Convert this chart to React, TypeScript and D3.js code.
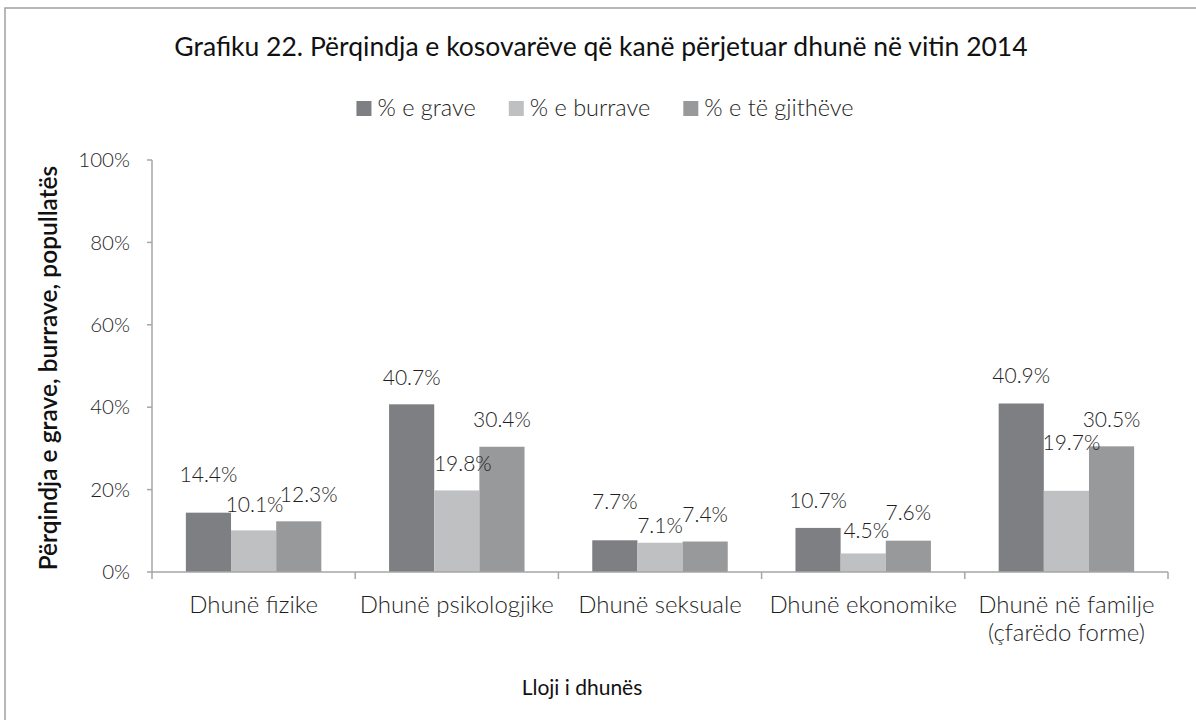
import React, { useEffect, useRef } from "react";
import * as d3 from "d3";

const categories: string[][] = [
  ["Dhunë fizike"],
  ["Dhunë psikologjike"],
  ["Dhunë seksuale"],
  ["Dhunë ekonomike"],
  ["Dhunë në familje", "(çfarëdo forme)"],
];
const seriesNames = ["% e grave", "% e burrave", "% e të gjithëve"];
const women = [14.4, 40.7, 7.7, 10.7, 40.9];
const men = [10.1, 19.8, 7.1, 4.5, 19.7];
const all = [12.3, 30.4, 7.4, 7.6, 30.5];
const yTicks = [0, 20, 40, 60, 80, 100];

// label placement nudges (layout, px): lift above bar top, horizontal shift
const labelLift = [
  [31, 18, 19],
  [19, 19.5, 20],
  [31, 10, 20],
  [20, 15.5, 20.5],
  [20, 41, 19],
];
const labelShift = [
  [0, 1, 10],
  [0, 6, 0],
  [0, 0, 0],
  [0, 3, 0],
  [0, 5, 0],
];

const colors = ["#7e7f82", "#bfc0c2", "#98999b"];
const FONT = "Lato, 'Open Sans', sans-serif";
const TEXT = "#1e1e1e";
const AXIS = "#a6a6a6";
const LIGHT = 300;

export default function App() {
  const ref = useRef<SVGSVGElement | null>(null);

  useEffect(() => {
    const svg = d3.select(ref.current);
    svg.selectAll("*").remove();
    const W = 1196, H = 720;
    const left = 152, right = 1168, top = 160, bottom = 572;

    // chart border
    svg.append("rect").attr("x", 5).attr("y", 8).attr("width", W + 20).attr("height", H + 20)
      .attr("fill", "#fff").attr("stroke", "#a0a0a0").attr("stroke-width", 1.5);

    const values = [women, men, all];
    const x = d3.scaleBand<number>().domain(d3.range(categories.length)).range([left, right]).padding(0);
    const xs = d3.scaleBand<number>().domain([0, 1, 2]).range([0, x.bandwidth()]).paddingInner(0).paddingOuter(0.75);
    const y = d3.scaleLinear().domain([0, 100]).range([bottom, top]);

    // title
    svg.append("text").attr("x", 601).attr("y", 56).attr("text-anchor", "middle")
      .attr("font-family", FONT).attr("font-size", 26.5).attr("font-weight", 400).attr("fill", "#111")
      .text("Grafiku 22. Përqindja e kosovarëve që kanë përjetuar dhunë në vitin 2014");

    // legend
    const lg = svg.append("g");
    let cx = 0;
    seriesNames.forEach((name, i) => {
      const g = lg.append("g").attr("transform", `translate(${cx},0)`);
      g.append("rect").attr("x", 0).attr("y", 101).attr("width", 15).attr("height", 15).attr("fill", colors[i]);
      const t = g.append("text").attr("x", 21).attr("y", 116).attr("font-family", FONT)
        .attr("font-size", 23.5).attr("font-weight", LIGHT).attr("fill", TEXT).text(name);
      const w = (t.node() as SVGTextElement).getComputedTextLength();
      cx += 21 + w + 33;
    });
    const lgWidth = cx - 33;
    lg.attr("transform", `translate(${605 - lgWidth / 2},0)`);

    // y axis
    svg.append("line").attr("x1", left).attr("x2", left).attr("y1", top).attr("y2", bottom)
      .attr("stroke", AXIS).attr("stroke-width", 1.5);
    yTicks.forEach((t) => {
      svg.append("line").attr("x1", left - 5).attr("x2", left).attr("y1", y(t)).attr("y2", y(t))
        .attr("stroke", AXIS).attr("stroke-width", 1.5);
      svg.append("text").attr("x", 130).attr("y", y(t)).attr("dy", "0.35em").attr("text-anchor", "end")
        .attr("font-family", FONT).attr("font-size", 20.5).attr("font-weight", LIGHT).attr("fill", TEXT).text(`${t}%`);
    });

    // bars
    values.forEach((arr, s) => {
      arr.forEach((v, c) => {
        svg.append("rect")
          .attr("x", (x(c) as number) + (xs(s) as number))
          .attr("y", y(v))
          .attr("width", xs.bandwidth())
          .attr("height", bottom - y(v))
          .attr("fill", colors[s]);
      });
    });

    // x axis
    svg.append("line").attr("x1", left).attr("x2", right).attr("y1", bottom).attr("y2", bottom)
      .attr("stroke", AXIS).attr("stroke-width", 1.5);
    d3.range(categories.length + 1).forEach((i) => {
      const xx = left + i * x.step();
      svg.append("line").attr("x1", xx).attr("x2", xx).attr("y1", bottom).attr("y2", bottom + 7)
        .attr("stroke", AXIS).attr("stroke-width", 1.5);
    });

    // data labels
    values.forEach((arr, s) => {
      arr.forEach((v, c) => {
        svg.append("text")
          .attr("x", (x(c) as number) + (xs(s) as number) + xs.bandwidth() / 2 + labelShift[c][s])
          .attr("y", y(v) - labelLift[c][s])
          .attr("text-anchor", "middle").attr("font-family", FONT).attr("font-size", 21)
          .attr("font-weight", LIGHT).attr("fill", TEXT).text(`${v.toFixed(1)}%`);
      });
    });

    // category labels
    categories.forEach((lines, c) => {
      const t = svg.append("text").attr("text-anchor", "middle").attr("font-family", FONT)
        .attr("font-size", 24).attr("font-weight", LIGHT).attr("fill", TEXT);
      lines.forEach((ln, i) => {
        t.append("tspan").attr("x", (x(c) as number) + x.bandwidth() / 2).attr("y", 613 + i * 28).text(ln);
      });
    });

    // axis titles
    svg.append("text").attr("x", 582).attr("y", 695).attr("text-anchor", "middle")
      .attr("font-family", FONT).attr("font-size", 21).attr("font-weight", 400).attr("fill", "#111").text("Lloji i dhunës");
    svg.append("text").attr("transform", "translate(57,368) rotate(-90)").attr("text-anchor", "middle")
      .attr("font-family", FONT).attr("font-size", 24.5).attr("font-weight", 600).attr("fill", "#111")
      .text("Përqindja e grave, burrave, popullatës");
  }, []);

  return (
    <svg ref={ref} width={1196} height={720}
      style={{ position: "absolute", left: 0, top: 0, display: "block", background: "#fff" }} />
  );
}
